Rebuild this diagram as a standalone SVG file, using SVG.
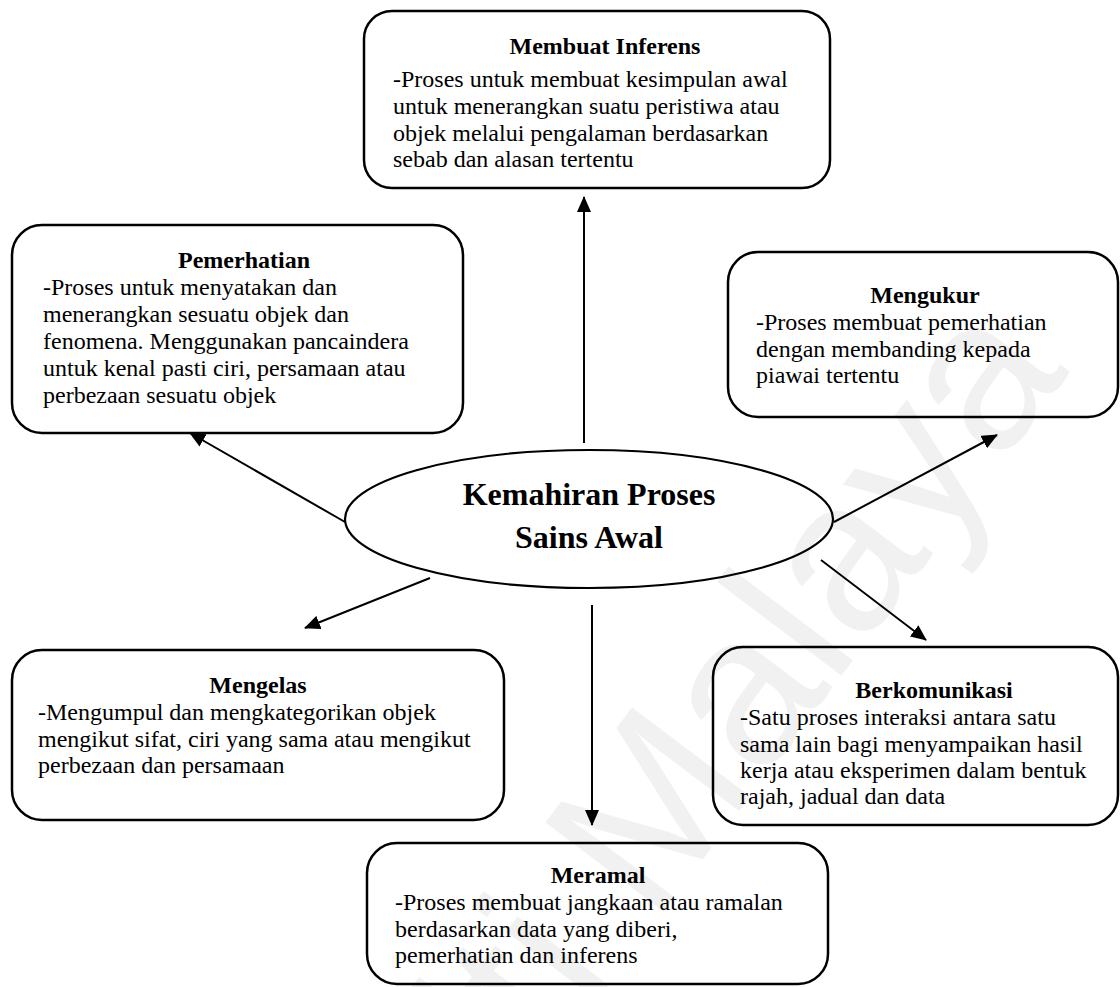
<svg xmlns="http://www.w3.org/2000/svg" width="1120" height="987" viewBox="0 0 1120 987">
  <style>
    .box { fill: none; stroke: #000; stroke-width: 2.5; }
    .hub { fill: none; stroke: #000; stroke-width: 2.2; }
    .ttl { font-family: "Liberation Serif", "Times New Roman", serif; font-weight: bold; font-size: 24px; text-anchor: middle; fill: #000; }
    .txt { font-family: "Liberation Serif", "Times New Roman", serif; font-size: 24px; fill: #000; }
    .hubtxt { font-family: "Liberation Serif", "Times New Roman", serif; font-weight: bold; font-size: 32px; text-anchor: middle; fill: #000; }
    .link { stroke: #000; stroke-width: 2; fill: none; marker-end: url(#arrow); }
    .wm { font-family: "Liberation Sans", Arial, sans-serif; font-size: 215px; fill: #f1f1f1; }
  </style>
  <defs>
    <marker id="arrow" markerUnits="userSpaceOnUse" markerWidth="16" markerHeight="14" refX="15" refY="7" orient="auto">
      <path d="M0,0 L16,7 L0,14 Z" fill="#000"/>
    </marker>
  </defs>

  <rect width="1120" height="987" fill="#fff"/>

  <!-- background watermark -->
  <text class="wm" x="1070" y="372" text-anchor="end" transform="rotate(-53 1070 372)">Universiti Malaya</text>

  <!-- connectors -->
  <g id="connectors">
    <line class="link" x1="584" y1="443" x2="584" y2="197"/>
    <line class="link" x1="345" y1="522" x2="190" y2="433"/>
    <line class="link" x1="834" y1="522" x2="997" y2="435"/>
    <line class="link" x1="430" y1="578" x2="305" y2="628"/>
    <line class="link" x1="592" y1="605" x2="592" y2="825"/>
    <line class="link" x1="821" y1="560" x2="926" y2="640"/>
  </g>

  <g id="hub">
    <ellipse class="hub" cx="589" cy="519" rx="244" ry="69"/>
    <text class="hubtxt" x="589" y="505">Kemahiran Proses</text>
    <text class="hubtxt" x="589" y="548">Sains Awal</text>
  </g>

  <g id="membuat-inferens">
    <rect class="box" x="364" y="11" width="466" height="177" rx="28"/>
    <text class="ttl" x="605" y="54">Membuat Inferens</text>
    <text class="txt" x="393" y="87">-Proses untuk membuat kesimpulan awal</text>
    <text class="txt" x="393" y="114">untuk menerangkan suatu peristiwa atau</text>
    <text class="txt" x="393" y="141">objek melalui pengalaman berdasarkan</text>
    <text class="txt" x="393" y="167">sebab dan alasan tertentu</text>
  </g>

  <g id="pemerhatian">
    <rect class="box" x="12" y="225" width="451" height="208" rx="30"/>
    <text class="ttl" x="244" y="268">Pemerhatian</text>
    <text class="txt" x="43" y="295">-Proses untuk menyatakan dan</text>
    <text class="txt" x="43" y="322">menerangkan sesuatu objek dan</text>
    <text class="txt" x="43" y="349">fenomena. Menggunakan pancaindera</text>
    <text class="txt" x="43" y="376">untuk kenal pasti ciri, persamaan atau</text>
    <text class="txt" x="43" y="403">perbezaan sesuatu objek</text>
  </g>

  <g id="mengukur">
    <rect class="box" x="728" y="252" width="390" height="165" rx="30"/>
    <text class="ttl" x="925" y="303">Mengukur</text>
    <text class="txt" x="756" y="330">-Proses membuat pemerhatian</text>
    <text class="txt" x="756" y="357">dengan membanding kepada</text>
    <text class="txt" x="756" y="383">piawai tertentu</text>
  </g>

  <g id="mengelas">
    <rect class="box" x="12" y="650" width="492" height="170" rx="30"/>
    <text class="ttl" x="258" y="693">Mengelas</text>
    <text class="txt" x="38" y="720">-Mengumpul dan mengkategorikan objek</text>
    <text class="txt" x="38" y="747">mengikut sifat, ciri yang sama atau mengikut</text>
    <text class="txt" x="38" y="773">perbezaan dan persamaan</text>
  </g>

  <g id="berkomunikasi">
    <rect class="box" x="713" y="647" width="405" height="178" rx="30"/>
    <text class="ttl" x="934" y="698">Berkomunikasi</text>
    <text class="txt" x="740" y="725">-Satu proses interaksi antara satu</text>
    <text class="txt" x="740" y="752">sama lain bagi menyampaikan hasil</text>
    <text class="txt" x="740" y="778">kerja atau eksperimen dalam bentuk</text>
    <text class="txt" x="740" y="804">rajah, jadual dan data</text>
  </g>

  <g id="meramal">
    <rect class="box" x="367" y="843" width="461" height="141" rx="30"/>
    <text class="ttl" x="598" y="883">Meramal</text>
    <text class="txt" x="395" y="910">-Proses membuat jangkaan atau ramalan</text>
    <text class="txt" x="395" y="937">berdasarkan data yang diberi,</text>
    <text class="txt" x="395" y="963">pemerhatian dan inferens</text>
  </g>
</svg>
